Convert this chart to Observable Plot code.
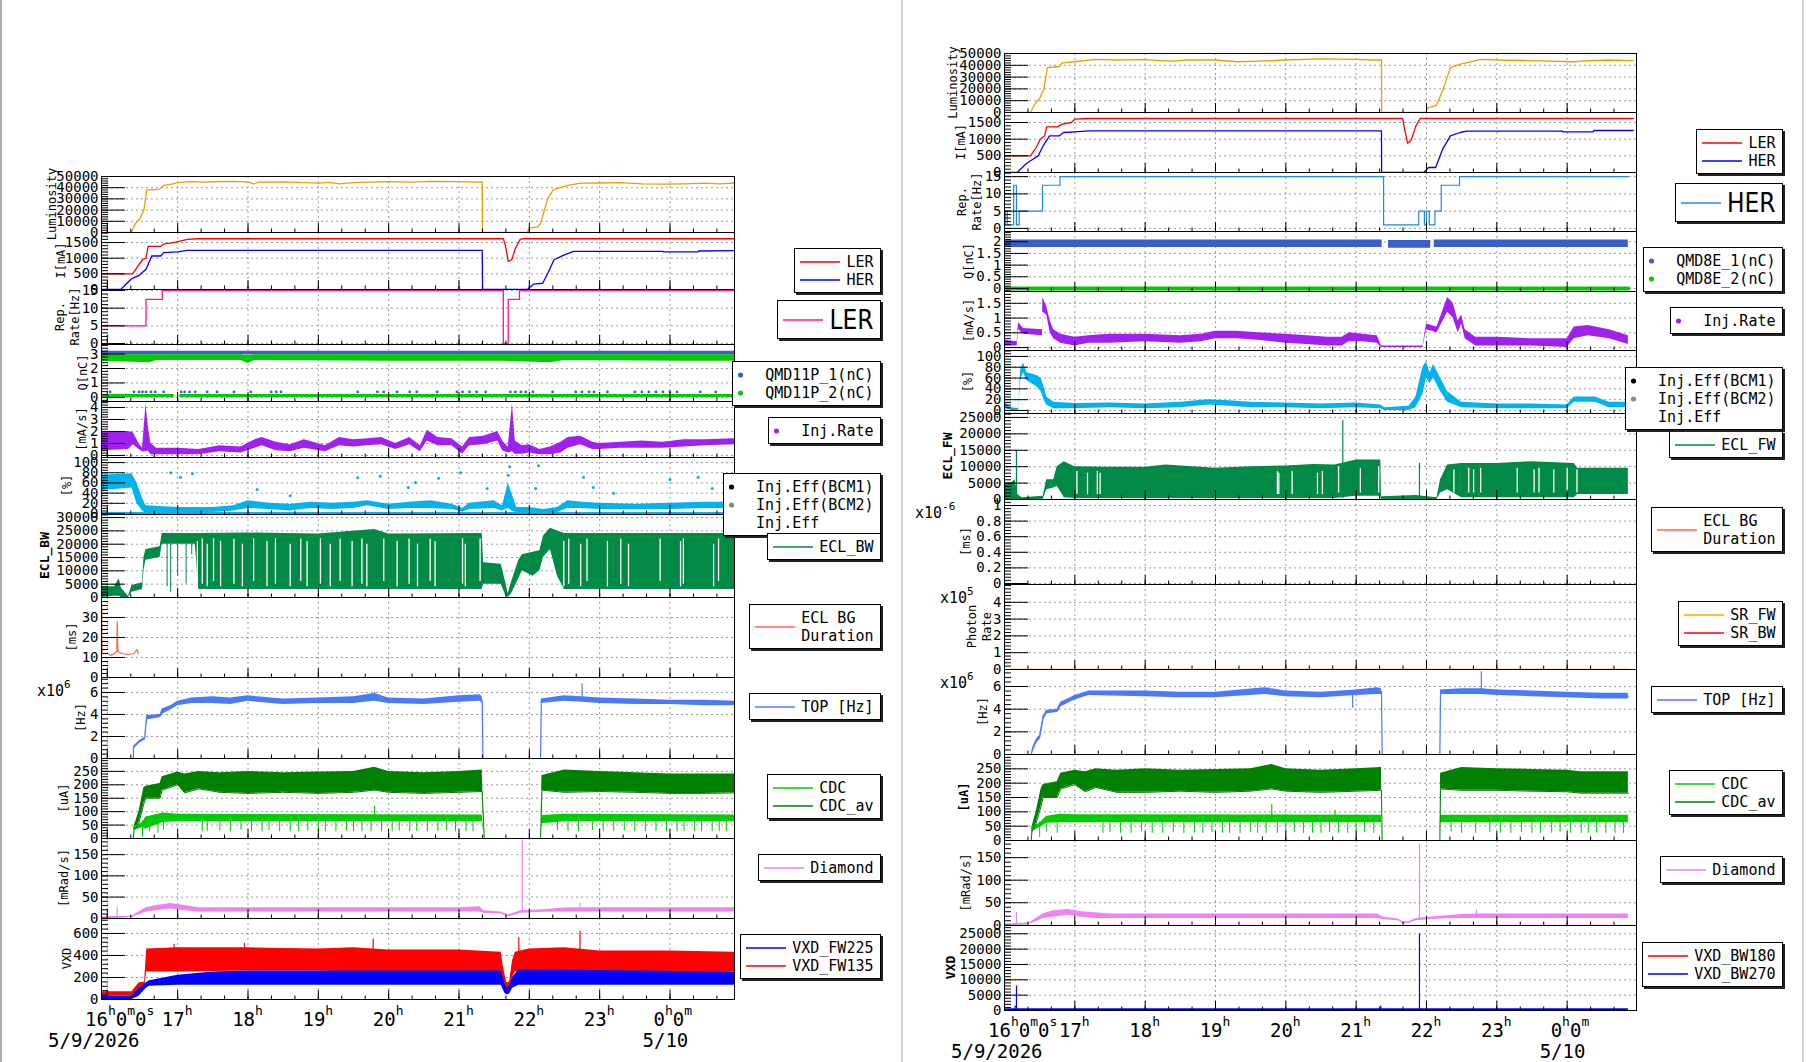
<!DOCTYPE html>
<html><head><meta charset="utf-8">
<script src="https://cdn.jsdelivr.net/npm/d3@7"></script>
<script src="https://cdn.jsdelivr.net/npm/@observablehq/plot@0.6"></script>
<style>
html,body{margin:0;padding:0;background:#fff;}
#root{position:relative;width:1806px;height:1062px;overflow:hidden;background:#fff;font-family:'DejaVu Sans Mono',monospace;}
.pnl{position:absolute;}
.pnl svg{overflow:visible;display:block;max-width:none;}
.lg{position:absolute;background:#fff;border:1.5px solid #000;box-shadow:2px 2px 0 #222;padding:3.5px 6.5px 3.5px 5px;font:15px 'DejaVu Sans Mono',monospace;color:#000;}
.row{display:flex;align-items:center;height:18px;white-space:pre;line-height:18px;}
.row.two{height:36px;}
.lg.big{font:26px 'Liberation Sans Narrow','DejaVu Sans Condensed','Liberation Sans',sans-serif;}
.lg.big .row{height:30px;line-height:30px;}
.row svg{display:block;flex:none;}
.vl{position:absolute;top:0;height:1062px;}
</style></head>
<body><div id="root"></div>
<script>
// ================= DATA (time in hours; 24 = 0:00 on 5/10) =================
// ---------- left column ----------
const L_lum = [[15.917,0],[16.34,0],[16.40,8000],[16.46,12000],[16.52,20000],[16.56,38000],[16.74,38500],[16.8,42000],[16.9,43000],[17.0,44500],[17.2,45500],[17.35,45000],[17.5,45300],[17.8,45600],[18.0,45000],[18.08,43500],[18.15,45000],[18.5,45200],[18.8,44500],[19.0,44000],[19.15,44800],[19.3,43500],[19.5,44500],[19.7,45000],[20.0,45500],[20.3,45000],[20.6,45600],[21.0,45500],[21.2,45000],[21.33,45200],[21.335,0],[21.97,0],[22.0,4000],[22.12,5000],[22.16,8000],[22.26,30000],[22.34,38000],[22.44,40000],[22.55,42000],[22.73,44000],[23.0,44200],[23.3,44500],[23.6,43500],[23.9,43200],[24.2,43500],[24.5,44000],[24.7,43500],[24.917,44200]];
const L_ler = [[15.917,500],[16.36,500],[16.42,700],[16.5,950],[16.55,1000],[16.58,1380],[16.76,1380],[16.8,1450],[16.94,1500],[17.14,1600],[17.28,1620],[21.63,1620],[21.66,1400],[21.7,900],[21.75,950],[21.8,1300],[21.87,1600],[21.9,1620],[24.917,1620]];
const L_her = [[15.917,0],[16.19,0],[16.3,250],[16.35,350],[16.45,450],[16.55,650],[16.6,900],[16.63,1070],[16.76,1070],[16.8,1180],[17.0,1200],[17.14,1250],[21.33,1250],[21.335,0],[21.97,0],[22.06,170],[22.19,200],[22.27,550],[22.35,950],[22.49,1100],[22.63,1220],[23.9,1220],[23.91,1200],[24.4,1200],[24.41,1230],[24.917,1240]];
const L_rep = [[15.917,5],[16.55,12.5],[16.78,15],[21.63,0],[21.70,12.5],[21.86,15],[24.917,15]];
const L_qmd1 = [[15.917,2.95,3.2],[24.917,2.95,3.2]];
const L_qmd2 = [[15.917,2.5,2.95],[16.6,2.4,2.95],[16.7,2.55,2.95],[17.9,2.55,2.95],[18.0,2.35,2.9],[18.1,2.55,2.95],[20.0,2.5,2.95],[21.6,2.5,2.95],[22.3,2.4,2.95],[22.5,2.55,2.95],[24.2,2.5,2.95],[24.917,2.5,2.95]];
const L_qmd2low = [[15.917,0.0,0.2],[16.95,0.0,0.2],[16.96,NaN,NaN],[17.03,0.0,0.2],[24.917,0.0,0.2]];
const L_qmd1dots = [[16.04,0.38],[16.38,0.38],[16.45,0.38],[16.5,0.38],[16.55,0.38],[16.62,0.38],[16.68,0.38],[16.8,0.38],[17.05,0.38],[17.1,0.38],[17.17,0.38],[17.25,0.38],[17.42,0.38],[17.56,0.38],[17.8,0.38],[18.04,0.38],[18.33,0.38],[18.4,0.38],[18.47,0.38],[19.56,0.38],[19.84,0.38],[19.93,0.38],[20.12,0.38],[20.3,0.38],[20.4,0.38],[20.69,0.38],[20.97,0.38],[21.05,0.38],[21.15,0.38],[21.25,0.38],[21.38,0.38],[21.73,0.38],[21.8,0.38],[21.88,0.38],[21.95,0.38],[22.05,0.38],[22.33,0.38],[22.66,0.38],[22.75,0.38],[22.85,0.38],[22.92,0.38],[23.11,0.38],[23.5,0.38],[23.6,0.38],[23.7,0.38],[23.8,0.38],[23.9,0.38],[24.0,0.38],[24.1,0.38],[24.43,0.38],[24.65,0.38]];
const L_injRate = [[15.917,0.4,2.0],[16.3,0.5,2.0],[16.37,0.9,1.9],[16.45,0.5,1.0],[16.5,0.3,0.6],[16.55,0.3,4.3],[16.58,0.4,2.5],[16.62,0.05,1.0],[16.7,0.05,0.6],[17.0,0.05,0.6],[17.3,0.05,0.5],[17.6,0.3,0.8],[17.9,0.2,0.7],[18.1,0.6,1.3],[18.2,0.8,1.5],[18.4,0.4,1.1],[18.6,0.3,0.9],[18.8,0.6,1.3],[19.1,0.3,0.8],[19.3,0.8,1.5],[19.5,0.7,1.3],[19.7,0.8,1.4],[19.9,0.9,1.5],[20.1,0.5,1.0],[20.3,0.9,1.5],[20.45,0.3,0.8],[20.55,1.2,2.1],[20.7,0.8,1.5],[20.9,0.8,1.4],[21.05,0.1,0.7],[21.15,0.8,1.5],[21.35,0.9,1.6],[21.55,1.2,2.0],[21.62,0.4,1.2],[21.7,0.2,0.7],[21.76,0.3,4.3],[21.8,0.1,1.2],[21.9,0.1,0.8],[22.0,0.2,0.9],[22.15,0.05,0.5],[22.3,0.05,0.7],[22.45,0.2,1.1],[22.55,0.6,1.5],[22.73,0.9,1.6],[22.9,0.5,1.1],[23.0,0.5,1.0],[23.3,0.6,1.1],[23.6,0.6,1.2],[23.9,0.6,1.1],[24.2,0.7,1.3],[24.5,0.8,1.3],[24.917,0.9,1.4]];
const L_injEff = [[15.917,45,75],[16.35,50,78],[16.42,20,60],[16.5,5,30],[16.55,0,15],[17.0,2,12],[17.5,2,12],[17.8,5,15],[18.0,10,25],[18.3,8,20],[18.6,5,18],[18.9,10,22],[19.2,8,20],[19.5,10,22],[19.7,15,25],[20.0,8,18],[20.3,10,22],[20.6,10,25],[20.9,8,18],[21.05,3,10],[21.15,8,20],[21.5,10,25],[21.62,5,15],[21.7,10,60],[21.75,5,40],[21.82,2,12],[22.0,2,12],[22.2,0,8],[22.4,2,12],[22.55,10,25],[22.75,10,22],[23.0,8,20],[23.5,8,18],[24.0,8,20],[24.5,10,22],[24.917,10,22]];
const L_injEffZero = [[15.917,0],[24.917,0]];
const L_injEffOut = [[16.9,80],[17.04,71],[17.21,78],[18.13,47],[18.6,35],[19.56,70],[19.88,73],[20.28,51],[20.38,61],[20.71,69],[21.02,80],[21.4,49],[21.72,92],[21.7,75],[22.09,49],[22.13,94],[22.77,71],[22.91,51],[23.2,40],[24.0,67],[24.4,71],[24.6,49]];
const L_ecl = [[15.917,0,4000],[16.1,500,4000],[16.17,500,7000],[16.2,0,3500],[16.3,0,500],[16.35,2000,4500],[16.5,3000,5500],[16.52,10000,15000],[16.55,14000,18000],[16.75,15000,19000],[16.78,20000,24000],[17.25,20000,24000],[17.3,3000,24000],[18.0,3000,24200],[19.0,3000,23800],[19.8,3000,25500],[20.0,3000,23800],[21.33,3000,24000],[21.35,5000,13000],[21.6,5000,12500],[21.66,1000,6000],[21.7,0,1500],[21.75,1500,6000],[21.85,7000,14000],[21.9,10000,16000],[22.05,8000,17000],[22.15,10000,17500],[22.2,15000,23000],[22.3,18000,26000],[22.4,8000,25000],[22.5,3000,24000],[24.917,3000,24000]];
const L_eclDips = [[16.85,4000],[16.9,2000],[17.0,8000],[17.12,5000],[17.2,16000]];
const L_eclGaps = [[17.28,4000,21000],[17.35,5000,22000],[17.42,4000,20000],[17.51,6000,22000],[17.61,4000,21000],[17.80,5000,22000],[17.92,4000,20000],[18.08,6000,22000],[18.27,4000,21000],[18.39,5000,22000],[18.60,4000,20000],[18.75,6000,22000],[18.84,4000,21000],[19.03,5000,22000],[19.17,4000,20000],[19.31,6000,22000],[19.48,4000,21000],[19.62,5000,22000],[19.69,4000,20000],[19.93,6000,22000],[20.12,4000,21000],[20.29,5000,22000],[20.41,4000,20000],[20.59,6000,22000],[20.66,4000,21000],[21.05,5000,22000],[21.09,4000,20000],[21.30,6000,22000],[22.49,4000,21000],[22.56,5000,22000],[22.73,4000,20000],[22.82,6000,22000],[23.11,4000,21000],[23.30,5000,22000],[23.41,4000,20000],[23.86,6000,22000],[24.15,4000,21000],[24.19,5000,22000],[24.62,4000,20000],[24.69,6000,22000]];
const L_eclbg = [[15.92,37],[15.925,12],[16.0,12],[16.05,11],[16.1,12],[16.135,13],[16.14,28],[16.145,21],[16.15,13],[16.2,12],[16.3,11.5],[16.38,12],[16.42,14],[16.44,12]];
const L_top = [[15.917,0,0],[16.37,0,0],[16.372,0.9,1.1],[16.45,1.4,1.6],[16.53,1.7,1.9],[16.56,3.5,3.9],[16.75,3.7,4.0],[16.78,4.0,4.5],[16.9,4.4,4.8],[17.0,4.8,5.2],[17.2,5.0,5.5],[17.5,5.0,5.6],[17.75,4.9,5.5],[18.0,5.2,5.7],[18.5,4.9,5.4],[19.0,5.0,5.5],[19.5,5.0,5.6],[19.8,5.2,5.9],[20.0,5.0,5.5],[20.5,4.9,5.4],[21.0,5.1,5.7],[21.3,5.2,5.8],[21.33,5.0,5.6],[21.34,0,0],[22.16,0,0],[22.17,5.0,5.4],[22.5,5.2,5.7],[22.75,5.1,5.6],[23.0,5.0,5.5],[23.5,4.9,5.4],[24.0,4.9,5.3],[24.5,4.8,5.3],[24.917,4.8,5.2]];
const L_topSpikes = [[22.75,5.5,6.8],[19.8,5.5,6.0]];
const L_cdcAv = [[15.917,0,0],[16.37,0,0],[16.38,30,45],[16.45,60,100],[16.52,130,190],[16.55,150,195],[16.75,150,205],[16.78,180,230],[17.0,200,248],[17.1,170,240],[17.3,185,250],[17.6,172,245],[18.0,168,250],[18.5,172,245],[19.0,168,248],[19.5,172,250],[19.8,180,265],[20.0,172,250],[20.5,168,245],[21.0,172,250],[21.33,175,255],[21.36,0,0],[22.16,0,0],[22.18,180,235],[22.5,172,255],[23.0,175,250],[23.5,172,245],[24.0,168,240],[24.5,168,240],[24.917,170,240]];
const L_cdc = [[15.917,0,0],[16.37,0,0],[16.38,30,45],[16.5,40,60],[16.55,35,80],[16.8,60,95],[17.0,62,90],[21.33,62,88],[21.36,0,0],[22.16,0,0],[22.18,55,86],[22.5,62,90],[24.917,62,88]];
const L_cdcDips = [[16.5,5],[16.6,25],[16.72,20],[16.8,30],[17.35,25],[17.42,25],[17.6,28],[17.75,25],[17.9,30],[18.05,25],[18.2,25],[18.3,28],[18.45,25],[18.6,25],[18.72,25],[18.85,28],[19.0,25],[19.1,25],[19.25,25],[19.4,28],[19.5,25],[19.62,25],[19.75,25],[19.9,25],[20.05,25],[20.15,28],[20.3,25],[20.4,25],[20.55,25],[20.7,25],[20.82,28],[20.95,25],[21.1,25],[21.2,25],[22.4,28],[22.55,25],[22.7,25],[22.9,30],[23.05,25],[23.2,25],[23.35,28],[23.5,25],[23.65,25],[23.8,25],[23.95,25],[24.1,25],[24.2,25],[24.35,25],[24.45,25],[24.6,25],[24.7,25],[24.8,25]];
const L_cdcSpikes = [[19.8,85,120]];
const L_diamond = [[15.917,0,3],[16.1,1,4],[16.35,2,5],[16.45,8,15],[16.55,15,25],[16.7,18,30],[16.9,22,35],[17.1,18,30],[17.3,15,25],[18.0,15,25],[19.0,15,25],[20.0,15,25],[21.0,15,25],[21.3,15,27],[21.35,12,18],[21.6,10,15],[21.7,3,8],[21.8,8,13],[21.88,12,18],[22.2,14,20],[22.5,15,24],[22.75,15,25],[23.0,15,25],[24.0,15,25],[24.917,15,25]];
const L_diamondSpikes = [[16.14,2,25],[21.9,15,185],[22.72,20,35]];
const L_vxd135 = [[15.917,30,70],[16.35,30,70],[16.45,60,150],[16.53,100,160],[16.56,250,460],[17.0,250,470],[18.0,260,470],[19.0,260,460],[19.5,250,470],[20.0,250,450],[21.0,250,450],[21.6,250,430],[21.63,150,300],[21.68,80,150],[21.72,100,160],[21.76,200,350],[21.8,250,430],[22.0,260,460],[22.5,260,470],[23.0,250,440],[24.0,250,440],[24.917,250,430]];
const L_vxd225 = [[15.917,0,30],[16.35,0,30],[16.45,30,100],[16.55,100,150],[16.6,120,170],[17.0,130,220],[17.5,130,250],[18.0,130,260],[21.6,130,260],[21.65,60,150],[21.68,40,110],[21.72,50,120],[21.76,100,200],[21.85,130,270],[22.0,130,270],[24.917,130,250]];
const L_vxdSpikes = [[16.95,450,500],[17.95,450,510],[19.78,450,550],[21.85,400,560],[22.72,450,620]];

// ---------- right column ----------
const R_lum = [[16.0,0],[16.37,0],[16.42,6000],[16.47,10000],[16.5,12000],[16.56,20000],[16.61,38000],[16.78,39000],[16.82,42000],[17.0,43000],[17.3,45000],[17.6,44500],[18.0,44800],[18.4,43500],[18.6,44500],[19.0,44500],[19.3,43000],[19.6,43500],[19.8,44000],[20.0,44500],[20.5,45500],[21.0,45000],[21.2,44500],[21.36,44500],[21.362,0],[21.99,0],[22.02,4000],[22.14,6000],[22.24,20000],[22.34,38000],[22.48,41000],[22.63,43000],[22.77,45000],[23.0,44500],[23.5,44000],[24.09,43000],[24.3,44000],[24.6,44500],[24.94,44000]];
const R_ler = [[16.0,500],[16.37,500],[16.45,750],[16.51,1000],[16.57,1100],[16.6,1370],[16.75,1370],[16.82,1450],[16.95,1500],[17.0,1600],[17.2,1620],[21.66,1620],[21.69,1300],[21.73,880],[21.78,950],[21.85,1400],[21.91,1620],[24.94,1620]];
const R_her = [[16.0,0],[16.18,0],[16.3,250],[16.37,350],[16.48,500],[16.55,800],[16.64,1100],[16.78,1100],[16.84,1200],[17.0,1220],[17.2,1250],[21.36,1250],[21.362,0],[21.96,0],[22.03,150],[22.13,150],[22.23,700],[22.34,1100],[22.48,1200],[22.57,1240],[23.93,1240],[23.94,1220],[24.37,1220],[24.38,1260],[24.94,1260]];
const R_rep = [[16.0,1],[16.01,5],[16.04,1],[16.13,12.5],[16.17,1],[16.21,5],[16.54,12.5],[16.79,15],[21.39,1],[21.89,5],[21.97,1],[22.0,5],[22.04,1],[22.12,5],[22.21,12.5],[22.47,15],[24.87,15]];
const R_qmd1 = [[16.0,1.75,2.08],[21.37,1.75,2.08],[21.375,NaN,NaN],[21.46,1.72,2.05],[22.06,1.72,2.05],[22.065,NaN,NaN],[22.11,1.75,2.08],[24.87,1.75,2.08]];
const R_qmd2 = [[16.0,0],[24.87,0]];
const R_injRate = [[16.0,0.05,0.25],[16.18,0.05,0.2],[16.2,0.6,0.85],[16.27,0.45,0.65],[16.54,0.4,0.6],[16.545,1.2,1.7],[16.6,1.1,1.4],[16.65,0.5,0.9],[16.7,0.3,0.6],[16.8,0.15,0.45],[17.0,0.05,0.35],[17.2,0.15,0.4],[17.5,0.15,0.45],[18.0,0.2,0.45],[18.5,0.15,0.4],[18.8,0.2,0.45],[19.0,0.3,0.55],[19.3,0.3,0.55],[19.6,0.25,0.5],[20.0,0.15,0.45],[20.3,0.1,0.4],[20.6,0.05,0.35],[20.8,0.05,0.35],[20.9,0.2,0.5],[21.1,0.2,0.45],[21.3,0.15,0.4],[21.36,0.0,0.05],[21.95,0.0,0.05],[22.0,0.6,0.8],[22.15,0.5,0.7],[22.3,1.2,1.7],[22.38,1.0,1.5],[22.45,0.5,0.9],[22.5,0.8,1.1],[22.55,0.3,0.6],[22.7,0.05,0.35],[23.0,0.05,0.35],[23.5,0.05,0.3],[24.0,0.0,0.3],[24.1,0.3,0.7],[24.3,0.4,0.75],[24.6,0.3,0.6],[24.87,0.1,0.4]];
const R_injEff = [[16.0,5,15],[16.1,0,5],[16.2,0,3],[16.23,55,75],[16.27,70,88],[16.32,55,70],[16.45,45,65],[16.52,35,60],[16.56,20,45],[16.6,10,25],[16.7,3,15],[17.0,3,13],[17.5,5,14],[18.0,3,12],[18.5,5,15],[18.9,10,20],[19.2,8,18],[19.5,5,15],[20.0,5,14],[20.5,3,12],[21.0,5,14],[21.35,3,10],[21.4,0,5],[21.75,0,8],[21.85,5,25],[21.95,30,80],[22.0,60,90],[22.05,50,70],[22.1,60,85],[22.2,35,60],[22.3,15,35],[22.4,10,25],[22.5,5,15],[23.0,3,12],[23.5,3,12],[24.0,3,10],[24.1,15,25],[24.4,15,25],[24.6,5,15],[24.87,5,15]];
const R_ecl = [[16.0,0,5000],[16.1,0,5000],[16.15,0,6000],[16.19,0,1500],[16.25,0,500],[16.55,0,1000],[16.6,3000,6000],[16.7,3500,6000],[16.75,4000,10000],[16.85,500,11500],[17.0,300,10000],[17.5,300,9800],[18.0,300,9800],[18.3,300,10500],[19.0,300,9500],[19.5,300,10000],[20.0,300,10200],[20.4,300,10700],[20.7,300,10500],[21.0,1000,12000],[21.35,1000,12000],[21.36,0,800],[21.85,0,1200],[22.15,0,500],[22.2,2000,6000],[22.3,3000,10500],[22.5,500,11000],[23.0,500,11000],[23.5,500,11500],[24.1,500,11000],[24.15,1500,9500],[24.87,1500,9500]];
const R_eclSpikes = [[16.17,0,15000],[20.81,300,24000],[21.9,0,11000]];
const R_eclGaps = [[17.03,1500,8500],[17.18,1500,8000],[17.32,1500,8500],[17.36,1500,8000],[19.88,1500,8500],[19.9,1500,8000],[20.09,1500,8500],[20.45,1500,8000],[20.52,1500,8500],[20.75,2000,10000],[21.06,2000,9500],[21.32,2000,10000],[22.39,2000,9000],[22.60,2000,9500],[22.67,2000,9000],[22.77,2000,9500],[23.29,2000,9500],[23.53,2000,9000],[23.60,2000,9500],[23.81,2000,9000],[24.0,2000,9500],[24.14,2000,9000]];
const R_srFW = [[16.0,0],[24.86,0]];
const R_srBW = [];
const R_top = [[16.38,0,0],[16.4,0.3,0.6],[16.45,1.0,1.3],[16.5,1.3,1.7],[16.55,3.0,3.4],[16.6,3.6,3.9],[16.75,3.7,4.0],[16.8,4.2,4.6],[17.0,4.8,5.2],[17.2,5.2,5.6],[18.0,5.1,5.6],[18.5,5.0,5.5],[19.0,5.0,5.5],[19.7,5.3,5.9],[20.0,5.1,5.6],[20.5,5.0,5.5],[21.0,5.2,5.7],[21.3,5.3,5.9],[21.36,5.3,5.8],[21.37,0,0],[22.19,0,0],[22.2,5.3,5.7],[22.5,5.3,5.8],[22.78,5.3,5.8],[23.0,5.2,5.7],[23.5,5.1,5.6],[24.0,5.0,5.5],[24.5,4.9,5.4],[24.87,4.9,5.4]];
const R_topSpikes = [[22.78,5.6,7.3],[20.95,4.1,5.2],[19.75,5.5,5.9]];
const R_cdcAv = [[16.0,0,0],[16.38,0,0],[16.39,30,45],[16.45,60,100],[16.52,120,180],[16.55,150,195],[16.75,150,205],[16.8,180,235],[17.0,195,245],[17.15,170,240],[17.3,185,250],[17.6,168,245],[18.0,168,250],[18.5,172,245],[19.0,168,248],[19.5,172,250],[19.8,180,265],[20.0,172,250],[20.5,168,245],[21.0,172,250],[21.36,175,255],[21.37,0,0],[22.19,0,0],[22.2,180,235],[22.5,175,255],[23.0,175,250],[23.5,172,248],[24.0,170,245],[24.2,165,240],[24.87,165,240]];
const R_cdc = [[16.0,0,0],[16.38,0,0],[16.39,30,45],[16.5,45,60],[16.6,60,85],[16.8,62,92],[17.0,62,90],[21.36,62,88],[21.37,0,0],[22.19,0,0],[22.2,62,88],[24.87,62,88]];
const R_cdcDips = [[16.5,10],[16.6,30],[16.75,25],[17.4,25],[17.5,28],[17.65,25],[17.8,25],[17.95,30],[18.1,25],[18.25,25],[18.4,28],[18.55,25],[18.7,25],[18.82,25],[18.95,28],[19.1,25],[19.2,25],[19.35,25],[19.5,28],[19.6,25],[19.72,25],[19.88,25],[20.0,25],[20.12,28],[20.25,25],[20.38,25],[20.5,25],[20.62,28],[20.75,25],[20.88,25],[21.0,25],[21.12,28],[21.25,25],[22.35,30],[22.5,25],[22.7,25],[22.9,28],[23.05,25],[23.2,25],[23.35,28],[23.5,25],[23.62,25],[23.78,25],[23.9,28],[24.05,25],[24.2,25],[24.3,25],[24.42,25],[24.55,25],[24.68,25],[24.8,25]];
const R_cdcSpikes = [[19.8,85,125],[20.7,85,105]];
const R_diamond = [[16.0,0,3],[16.35,2,5],[16.45,8,15],[16.55,15,25],[16.7,18,32],[16.9,22,35],[17.1,18,30],[17.3,15,28],[17.5,15,25],[21.3,15,25],[21.4,12,17],[21.6,10,14],[21.67,3,7],[21.75,4,8],[21.85,10,15],[22.2,14,20],[22.5,15,24],[22.75,15,25],[24.87,15,25]];
const R_diamondSpikes = [[16.17,2,28],[21.9,15,180],[22.71,20,35]];
const R_vxd180 = [[16.0,0,300],[24.87,0,300]];
const R_vxd270 = [[16.0,0,600],[24.87,0,600]];
const R_vxdSpikes = [[16.15,0,1500],[16.17,0,8000],[21.35,0,1500],[21.9,0,25000]];

// tick values
const HOURS = [16,17,18,19,20,21,22,23,24];
const HOUR_LABELS = [17,18,19,20,21,22,23];
const T_lum = [0,10000,20000,30000,40000,50000];
const T_cur = [0,500,1000,1500];
const T_rep = [0,5,10,15];
const T_qL = [0,1,2,3];
const T_qR = [0,0.5,1,1.5,2];
const T_injL = [0,1,2,3,4];
const T_injR = [0,0.5,1,1.5];
const T_eff = [0,20,40,60,80,100];
const T_eclL = [0,5000,10000,15000,20000,25000,30000];
const T_eclR = [0,5000,10000,15000,20000,25000];
const T_bgL = [0,10,20,30];
const T_bgR = [0,0.2,0.4,0.6,0.8,1];
const T_ph = [0,1,2,3,4];
const T_top = [0,2,4,6];
const T_cdc = [0,50,100,150,200,250];
const T_dia = [0,50,100,150];
const T_vxdL = [0,200,400,600];
const T_vxdR = [0,5000,10000,15000,20000,25000];

const C = {lum:"#e8a000", ler:"#ff0000", her:"#0000ff", repL:"#ff1493", repR:"#1e88e5", qBlue:"#3a5fcd", qGreen:"#00cc00",
  inj:"#a020f0", eff:"#00b2ee", ecl:"#008a45", eclbg:"#ff6347", top:"#4a7bf7", cdc:"#00cc00", cdcAv:"#008000",
  dia:"#ee82ee", red:"#ff0000", blue:"#0000ff", srfw:"#ffa500"};

// ================= helpers =================
const line = (data, stroke, o={}) => Plot.line(data, {x: d=>d[0], y: d=>d[1], stroke, strokeWidth: 1.3, clip: true, ...o});
const band = (data, fill) => Plot.areaY(data, {x: d=>d[0], y1: d=>d[1], y2: d=>d[2], fill, clip: true});
const spikes = (data, stroke, w=1.2) => Plot.ruleX(data, {x: d=>d[0], y1: d=>d[1], y2: d=>d[2], stroke, strokeWidth: w, clip: true});
const dips = (data, top, stroke) => Plot.ruleX(data, {x: d=>d[0], y1: d=>d[1], y2: () => top, stroke, strokeWidth: 1, clip: true});
const dots = (data, fill, r=1.4) => Plot.dot(data, {x: d=>d[0], y: d=>d[1], r, fill, stroke: "none", clip: true});

const COLS = {
  L: {svgLeft: 0, left: 101, right: 734, domain: [15.917, 24.917], legendRight: 881},
  R: {svgLeft: 903, left: 1004, right: 1636, domain: [16.0, 24.986], legendRight: 1783}
};

const PANELS = {
  L: [
    {top:176, bot:232, y:[0,50000], ticks:T_lum, minor:2000, labels:[{t:"Luminosity", x:52}],
      marks:[line(L_lum, C.lum)]},
    {top:232, bot:289, y:[0,1820], ticks:T_cur, minor:100, labels:[{t:"I[mA]", x:61}],
      marks:[line(L_ler, C.ler), line(L_her, C.her)]},
    {top:289, bot:344, y:[-0.28,15.28], ticks:T_rep, minor:1, labels:[{t:"Rep.", x:60},{t:"Rate[Hz]", x:75}],
      marks:[line(L_rep, C.repL, {curve:"step-after"})]},
    {top:344, bot:401, y:[-0.28,3.66], ticks:T_qL, minor:0.2, labels:[{t:"Q[nC]", x:83}],
      marks:[band(L_qmd1, C.qBlue), band(L_qmd2, C.qGreen), dots(L_qmd1dots, C.qBlue), band(L_qmd2low, C.qGreen)]},
    {top:401, bot:457, y:[-0.17,4.5], ticks:T_injL, minor:0.2, labels:[{t:"[mA/s]", x:82}],
      marks:[band(L_injRate, C.inj)]},
    {top:457, bot:514, y:[-2,110], ticks:T_eff, minor:5, labels:[{t:"[%]", x:67}],
      marks:[band(L_injEff, C.eff), dots(L_injEffOut, C.eff, 1.5), line(L_injEffZero, C.eff, {strokeWidth:3})]},
    {top:514, bot:597, y:[0,31150], ticks:T_eclL, minor:1000, labels:[{t:"ECL_BW", x:44, bold:true, size:13}],
      marks:[band(L_ecl, C.ecl), dips(L_eclDips, 20000, C.ecl), spikes(L_eclGaps, "#fff", 1.3)]},
    {top:597, bot:677, y:[0,40], ticks:T_bgL, minor:2, labels:[{t:"[ms]", x:72}],
      marks:[line(L_eclbg, C.eclbg, {strokeWidth:1.2})]},
    {top:677, bot:758, y:[0,7.36], ticks:T_top, minor:0.4, labels:[{t:"[Hz]", x:81}], exp:{x:37, y:696, sup:"6"},
      marks:[band(L_top, C.top), line(L_top.map(d=>[d[0],(d[1]+d[2])/2]), C.top, {strokeWidth:1.2}), spikes(L_topSpikes, C.top)]},
    {top:758, bot:838, y:[0,298], ticks:T_cdc, minor:10, labels:[{t:"[uA]", x:64}],
      marks:[band(L_cdcAv, C.cdcAv), band(L_cdc, C.cdc), dips(L_cdcDips, 65, C.cdc), spikes(L_cdcSpikes, C.cdc),
             line(L_cdcAv.map(d=>[d[0],d[1]]), C.cdcAv, {strokeWidth:1})]},
    {top:838, bot:918, y:[-0.5,188], ticks:T_dia, minor:10, labels:[{t:"[mRad/s]", x:64}],
      marks:[band(L_diamond, C.dia), spikes(L_diamondSpikes, C.dia)]},
    {top:918, bot:999, y:[0,736], ticks:T_vxdL, minor:40, labels:[{t:"VXD", x:67}],
      marks:[band(L_vxd135, C.red), spikes(L_vxdSpikes, C.red), band(L_vxd225, C.blue)]}
  ],
  R: [
    {top:53, bot:112, y:[0,50000], ticks:T_lum, minor:2000, labels:[{t:"Luminosity", x:953}],
      marks:[line(R_lum, C.lum)]},
    {top:112, bot:172, y:[0,1800], ticks:T_cur, minor:100, labels:[{t:"I[mA]", x:961}],
      marks:[line(R_ler, C.ler), line(R_her, C.her)]},
    {top:172, bot:231, y:[-0.9,16.2], ticks:T_rep, minor:1, labels:[{t:"Rep.", x:962},{t:"Rate[Hz]", x:977}],
      marks:[line(R_rep, C.repR, {curve:"step-after", strokeWidth:1.2})]},
    {top:231, bot:291, y:[-0.13,2.44], ticks:T_qR, minor:0.1, labels:[{t:"Q[nC]", x:969}],
      marks:[band(R_qmd1, C.qBlue), line(R_qmd2, C.qGreen, {strokeWidth:4})]},
    {top:291, bot:350, y:[-0.1,1.9], ticks:T_injR, minor:0.1, labels:[{t:"[mA/s]", x:969}],
      marks:[band(R_injRate, C.inj)]},
    {top:350, bot:413, y:[-5.6,111], ticks:T_eff, minor:5, labels:[{t:"[%]", x:968}],
      marks:[band(R_injEff, C.eff)]},
    {top:413, bot:499, y:[0,26200], ticks:T_eclR, minor:1000, labels:[{t:"ECL_FW", x:947, bold:true, size:13}],
      marks:[band(R_ecl, C.ecl), spikes(R_eclSpikes, C.ecl), spikes(R_eclGaps, "#fff", 1.3)]},
    {top:499, bot:584, y:[-0.013,1.077], ticks:T_bgR, minor:0.04, labels:[{t:"[ms]", x:966}], exp:{x:915, y:518, sup:"-6"},
      marks:[]},
    {top:584, bot:669, y:[0,5.06], ticks:T_ph, minor:0.2, labels:[{t:"Photon", x:972},{t:"Rate", x:987}], exp:{x:940, y:603, sup:"5"},
      marks:[line(R_srBW, C.red), line(R_srFW, C.srfw, {strokeWidth:1.5})]},
    {top:669, bot:754, y:[0,7.5], ticks:T_top, minor:0.4, labels:[{t:"[Hz]", x:983}], exp:{x:940, y:688, sup:"6"},
      marks:[band(R_top, C.top), line(R_top.map(d=>[d[0],(d[1]+d[2])/2]), C.top, {strokeWidth:1.2}), spikes(R_topSpikes, C.top)]},
    {top:754, bot:840, y:[0,300], ticks:T_cdc, minor:10, labels:[{t:"[uA]", x:964, bold:true}],
      marks:[band(R_cdcAv, C.cdcAv), band(R_cdc, C.cdc), dips(R_cdcDips, 65, C.cdc), spikes(R_cdcSpikes, C.cdc),
             line(R_cdcAv.map(d=>[d[0],d[1]]), C.cdcAv, {strokeWidth:1})]},
    {top:840, bot:925, y:[-0.5,188], ticks:T_dia, minor:10, labels:[{t:"[mRad/s]", x:966}],
      marks:[band(R_diamond, C.dia), spikes(R_diamondSpikes, C.dia)]},
    {top:925, bot:1010, y:[0,27700], ticks:T_vxdR, minor:1000, labels:[{t:"VXD", x:950, bold:true, size:13}],
      marks:[band(R_vxd180, C.red), band(R_vxd270, C.blue), spikes(R_vxdSpikes, C.blue)]}
  ]
};

const LEGENDS = {
  L: [
    {top:248, items:[["LER",C.ler,"line"],["HER",C.her,"line"]]},
    {top:300, big:true, items:[["LER",C.repL,"line"]]},
    {top:361, items:[["QMD11P_1(nC)",C.qBlue,"dot"],["QMD11P_2(nC)",C.qGreen,"dot"]]},
    {top:417, items:[["Inj.Rate",C.inj,"dot"]]},
    {top:473, items:[["Inj.Eff(BCM1)","#000","dot"],["Inj.Eff(BCM2)","#888","dot"],["Inj.Eff",null,"dot"]]},
    {top:533, items:[["ECL_BW",C.ecl,"line"]]},
    {top:604, items:[["ECL BG\nDuration",C.eclbg,"line"]]},
    {top:693, items:[["TOP [Hz]",C.top,"line"]]},
    {top:774, items:[["CDC",C.cdc,"line"],["CDC_av",C.cdcAv,"line"]]},
    {top:854, items:[["Diamond",C.dia,"line"]]},
    {top:934, items:[["VXD_FW225",C.blue,"line"],["VXD_FW135",C.red,"line"]]}
  ],
  R: [
    {top:129, items:[["LER",C.ler,"line"],["HER",C.her,"line"]]},
    {top:183, big:true, items:[["HER",C.repR,"line"]]},
    {top:247, items:[["QMD8E_1(nC)",C.qBlue,"dot"],["QMD8E_2(nC)",C.qGreen,"dot"]]},
    {top:307, items:[["Inj.Rate",C.inj,"dot"]]},
    {top:431, items:[["ECL_FW",C.ecl,"line"]]},
    {top:367, items:[["Inj.Eff(BCM1)","#000","dot"],["Inj.Eff(BCM2)","#888","dot"],["Inj.Eff",null,"dot"]]},
    {top:507, items:[["ECL BG\nDuration",C.eclbg,"line"]]},
    {top:601, items:[["SR_FW",C.srfw,"line"],["SR_BW",C.red,"line"]]},
    {top:686, items:[["TOP [Hz]",C.top,"line"]]},
    {top:770, items:[["CDC",C.cdc,"line"],["CDC_av",C.cdcAv,"line"]]},
    {top:856, items:[["Diamond",C.dia,"line"]]},
    {top:942, items:[["VXD_BW180",C.red,"line"],["VXD_BW270",C.blue,"line"]]}
  ]
};

// ================= rendering =================
const root = document.getElementById("root");
for (const [x, w, c] of [[0,2,"#b0b0b0"],[901,2,"#d4d4d4"],[1802,2,"#d4d4d4"]]) {
  const v = document.createElement("div"); v.className = "vl";
  v.style.left = x + "px"; v.style.width = w + "px"; v.style.background = c; root.appendChild(v);
}
const FONT = "'DejaVu Sans Mono', monospace";

function renderPanel(colKey, p, isBottom) {
  const col = COLS[colKey];
  const H = p.bot - p.top;
  const mB = isBottom ? 50 : 0;
  const W = col.right + 1 - col.svgLeft;
  const [y0, y1] = p.y;
  const pyd = (y1 - y0) / H;
  const pxd = (col.domain[1] - col.domain[0]) / (col.right - col.left);
  const x0 = col.domain[0];
  const hours = HOURS.filter(h => h > col.domain[0] + 0.01 && h < col.domain[1]);
  const minors = d3.range(48, 76).map(i => i / 3).filter(h => h > col.domain[0] && h < col.domain[1]);
  const yMinor = d3.range(Math.ceil(y0 / p.minor) * p.minor, y1, p.minor);
  const grid = {stroke: "#9c9c9c", strokeDasharray: "2,3", strokeWidth: 1};
  const svg = Plot.plot({
    width: W, height: H + mB,
    marginLeft: col.left - col.svgLeft, marginRight: 1, marginTop: 0, marginBottom: mB,
    x: {domain: col.domain, axis: null},
    y: {domain: p.y, axis: null},
    style: {fontFamily: FONT, fontSize: "14px", color: "black", background: "transparent", overflow: "visible", maxWidth: "none"},
    marks: [
      Plot.ruleX(hours, {x: d => d, ...grid}),
      Plot.ruleY(p.ticks.filter(t => t > y0 && t < y1), {y: d => d, ...grid}),
      ...p.marks,
      Plot.ruleX(hours, {x: d => d, y1: () => y0, y2: () => y0 + 9 * pyd, stroke: "black"}),
      Plot.ruleX(minors, {x: d => d, y1: () => y0, y2: () => y0 + 3.5 * pyd, stroke: "black"}),
      Plot.ruleY(p.ticks, {y: d => d, x1: () => x0, x2: () => x0 + 24 * pxd, stroke: "black"}),
      Plot.ruleY(yMinor, {y: d => d, x1: () => x0, x2: () => x0 + 7 * pxd, stroke: "black"}),
      Plot.frame({stroke: "black"}),
      Plot.text(p.ticks, {y: d => d, frameAnchor: "left", text: d => String(d), textAnchor: "end", dx: -3, fontSize: 14})
    ]
  });
  const wrap = document.createElement("div");
  wrap.className = "pnl";
  wrap.style.left = col.svgLeft + "px"; wrap.style.top = p.top + "px"; wrap.style.width = W + "px";
  wrap.appendChild(svg);
  root.appendChild(wrap);

  const s = d3.select(svg);
  const g = s.append("g").attr("font-family", FONT).attr("fill", "black");
  const cy = H / 2;
  for (const lb of p.labels) {
    g.append("text")
      .attr("transform", `translate(${lb.x - col.svgLeft},${cy}) rotate(-90)`)
      .attr("text-anchor", "middle").attr("dy", "0.35em")
      .attr("font-size", lb.size || 12).attr("font-weight", lb.bold ? "bold" : "normal")
      .text(lb.t);
  }
  if (p.exp) {
    const t = g.append("text").attr("x", p.exp.x - col.svgLeft).attr("y", p.exp.y - p.top)
      .attr("text-anchor", "start").attr("font-size", 15);
    t.append("tspan").text("x10");
    t.append("tspan").attr("dy", -8).attr("font-size", 11).text(p.exp.sup);
  }
  if (isBottom) {
    const sx = svg.scale("x");
    const base = H + 27, base2 = H + 48;
    const gx = s.append("g").attr("font-family", FONT).attr("fill", "black").attr("font-size", 19);
    for (const h of HOUR_LABELS) {
      const t = gx.append("text").attr("x", sx.apply(h)).attr("y", base).attr("text-anchor", "middle");
      t.append("tspan").text(String(h));
      t.append("tspan").attr("dy", -11).attr("font-size", 13).text("h");
    }
    const px0 = col.left - col.svgLeft;
    const st = gx.append("text").attr("x", px0 - 16).attr("y", base).attr("text-anchor", "start");
    [["16",0],["h",1],["0",0],["m",1],["0",0],["s",1]].forEach(([txt, sup], i, arr) => {
      const prevSup = i > 0 ? arr[i-1][1] : 0;
      const dyv = sup && !prevSup ? -11 : (!sup && prevSup ? 11 : 0);
      st.append("tspan").attr("dy", dyv).attr("font-size", sup ? 13 : 19).text(txt);
    });
    const mid = sx.apply(24);
    const mt = gx.append("text").attr("x", mid - 16).attr("y", base).attr("text-anchor", "start");
    mt.append("tspan").text("0");
    mt.append("tspan").attr("dy", -11).attr("font-size", 13).text("h");
    mt.append("tspan").attr("dy", 11).text("0");
    mt.append("tspan").attr("dy", -11).attr("font-size", 13).text("m");
    gx.append("text").attr("x", mid - 27).attr("y", base2).attr("text-anchor", "start").text("5/10");
    gx.append("text").attr("x", px0 - 53).attr("y", base2).attr("text-anchor", "start").text("5/9/2026");
  }
}

for (const key of ["L", "R"]) {
  PANELS[key].forEach((p, i, arr) => renderPanel(key, p, i === arr.length - 1));
}

const NS = "http://www.w3.org/2000/svg";
function renderLegend(colKey, L) {
  const col = COLS[colKey];
  const div = document.createElement("div");
  div.className = "lg" + (L.big ? " big" : "");
  div.style.top = L.top + "px";
  div.style.right = (1806 - col.legendRight) + "px";
  for (const [label, color, kind] of L.items) {
    const row = document.createElement("div");
    const multi = label.includes("\n");
    row.className = "row" + (multi ? " two" : "");
    const sv = document.createElementNS(NS, "svg");
    const h = L.big ? 30 : (multi ? 36 : 18);
    if (kind === "line") {
      sv.setAttribute("width", 46); sv.setAttribute("height", h);
      const ln = document.createElementNS(NS, "line");
      ln.setAttribute("x1", 0); ln.setAttribute("x2", 40);
      ln.setAttribute("y1", h / 2); ln.setAttribute("y2", h / 2);
      ln.setAttribute("stroke", color); ln.setAttribute("stroke-width", 1.3);
      sv.appendChild(ln);
    } else {
      sv.setAttribute("width", 27); sv.setAttribute("height", h);
      if (color) {
        const c = document.createElementNS(NS, "circle");
        c.setAttribute("cx", 2.5); c.setAttribute("cy", h / 2); c.setAttribute("r", 2.6);
        c.setAttribute("fill", color); sv.appendChild(c);
      }
    }
    row.appendChild(sv);
    const tx = document.createElement("span");
    tx.textContent = label;
    row.appendChild(tx);
    div.appendChild(row);
  }
  root.appendChild(div);
}
for (const key of ["L", "R"]) LEGENDS[key].forEach(L => renderLegend(key, L));
</script>
</body></html>
